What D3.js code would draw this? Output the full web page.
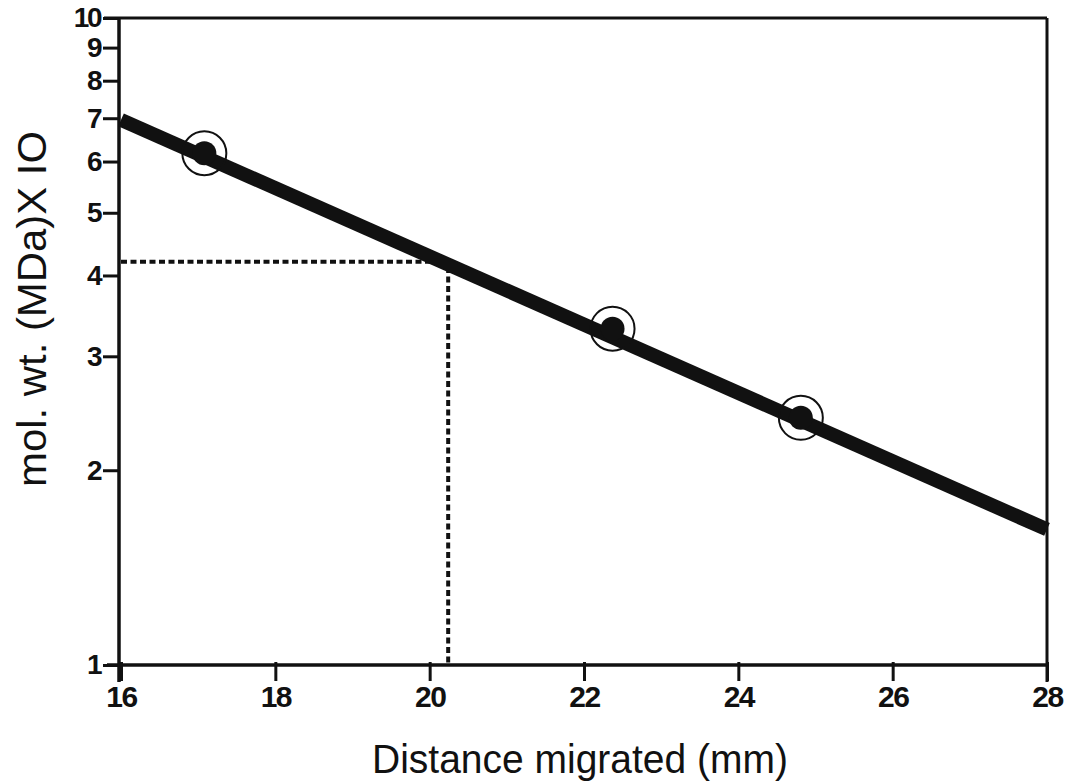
<!DOCTYPE html>
<html><head><meta charset="utf-8">
<script src="https://cdn.jsdelivr.net/npm/d3@7"></script>
<style>body{margin:0;background:#fff}</style>
</head><body>
<svg id="c" width="1077" height="781"></svg>
<script>
const xTicks = [16, 18, 20, 22, 24, 26, 28];
const yTicks = [1, 2, 3, 4, 5, 6, 7, 8, 9, 10];
const pointX = [17.08, 22.37, 24.81];
const pointY = [6.18, 3.31, 2.41];
const fitX = [16, 28];
const fitY = [6.96, 1.62];
const readX = [16, 20.24, 20.24];
const readY = [4.20, 4.20, 1];

const svg = d3.select("#c");
const ink = "#111";
const font = "Liberation Sans, Arial, sans-serif";
const x = d3.scaleLinear().domain([16, 28]).range([121, 1047]);
const y = d3.scaleLog().domain([1, 10]).range([665, 18]);

// frame
svg.append("line").attr("x1", 104).attr("x2", x(28)).attr("y1", y(10)).attr("y2", y(10))
  .attr("stroke", ink).attr("stroke-width", 3);
svg.append("line").attr("x1", x(28)).attr("x2", x(28)).attr("y1", y(10)).attr("y2", 682)
  .attr("stroke", ink).attr("stroke-width", 3);

// axes
const xAxis = d3.axisBottom(x).tickValues(xTicks).tickSize(16).tickPadding(5).tickFormat(d3.format("d"));
const gx = svg.append("g").attr("transform", `translate(0,${y(1)})`).call(xAxis);
gx.select(".domain").remove();
gx.append("line").attr("x1", 107).attr("x2", x(28)).attr("stroke", ink).attr("stroke-width", 3.5);
gx.selectAll(".tick line").attr("stroke", ink).attr("stroke-width", 3).attr("y1", -3);
gx.selectAll(".tick text").attr("fill", ink).attr("font-family", font)
  .attr("font-size", 30).attr("font-weight", "bold").attr("letter-spacing", -1.5);

const yAxis = d3.axisLeft(y).tickValues(yTicks).tickSize(16).tickPadding(3).tickFormat(d3.format("d"));
const gy = svg.append("g").attr("transform", `translate(${x(16) - 2},0)`).call(yAxis);
gy.select(".domain").remove();
gy.append("line").attr("y1", y(10)).attr("y2", 682).attr("stroke", ink).attr("stroke-width", 3.5);
gy.selectAll(".tick line").attr("stroke", ink).attr("stroke-width", 3);
gy.selectAll(".tick text").attr("fill", ink).attr("font-family", font)
  .attr("font-size", 28).attr("font-weight", "bold").attr("letter-spacing", -2.5);

// reading lines (dotted)
const lineGen = d3.line().x((d, i) => x(readX[i])).y((d, i) => y(readY[i]));
svg.append("path").attr("d", lineGen(readX)).attr("fill", "none").attr("stroke", ink)
  .attr("stroke-width", 4).attr("stroke-dasharray", "6,3.5");

// fit line
const fitGen = d3.line().x((d, i) => x(fitX[i])).y((d, i) => y(fitY[i]));
svg.append("path").attr("d", fitGen(fitX)).attr("fill", "none").attr("stroke", ink).attr("stroke-width", 14);

// points
const pts = pointX.map((v, i) => ({ x: v, y: pointY[i] }));
svg.selectAll("circle.ring").data(pts).join("circle").attr("class", "ring")
  .attr("cx", d => x(d.x)).attr("cy", d => y(d.y)).attr("r", 22)
  .attr("fill", "none").attr("stroke", ink).attr("stroke-width", 2);
svg.selectAll("circle.dot").data(pts).join("circle").attr("class", "dot")
  .attr("cx", d => x(d.x)).attr("cy", d => y(d.y)).attr("r", 12).attr("fill", ink);

// titles
svg.append("text").attr("x", 580).attr("y", 773).attr("text-anchor", "middle")
  .attr("font-family", font).attr("font-size", 40).attr("fill", ink)
  .attr("textLength", 416).attr("lengthAdjust", "spacingAndGlyphs")
  .text("Distance migrated (mm)");
svg.append("text").attr("transform", "translate(46,309) rotate(-90)").attr("text-anchor", "middle")
  .attr("font-family", font).attr("font-size", 40).attr("fill", ink)
  .attr("textLength", 356).attr("lengthAdjust", "spacingAndGlyphs")
  .text("mol. wt. (MDa)X IO");
</script>
</body></html>
